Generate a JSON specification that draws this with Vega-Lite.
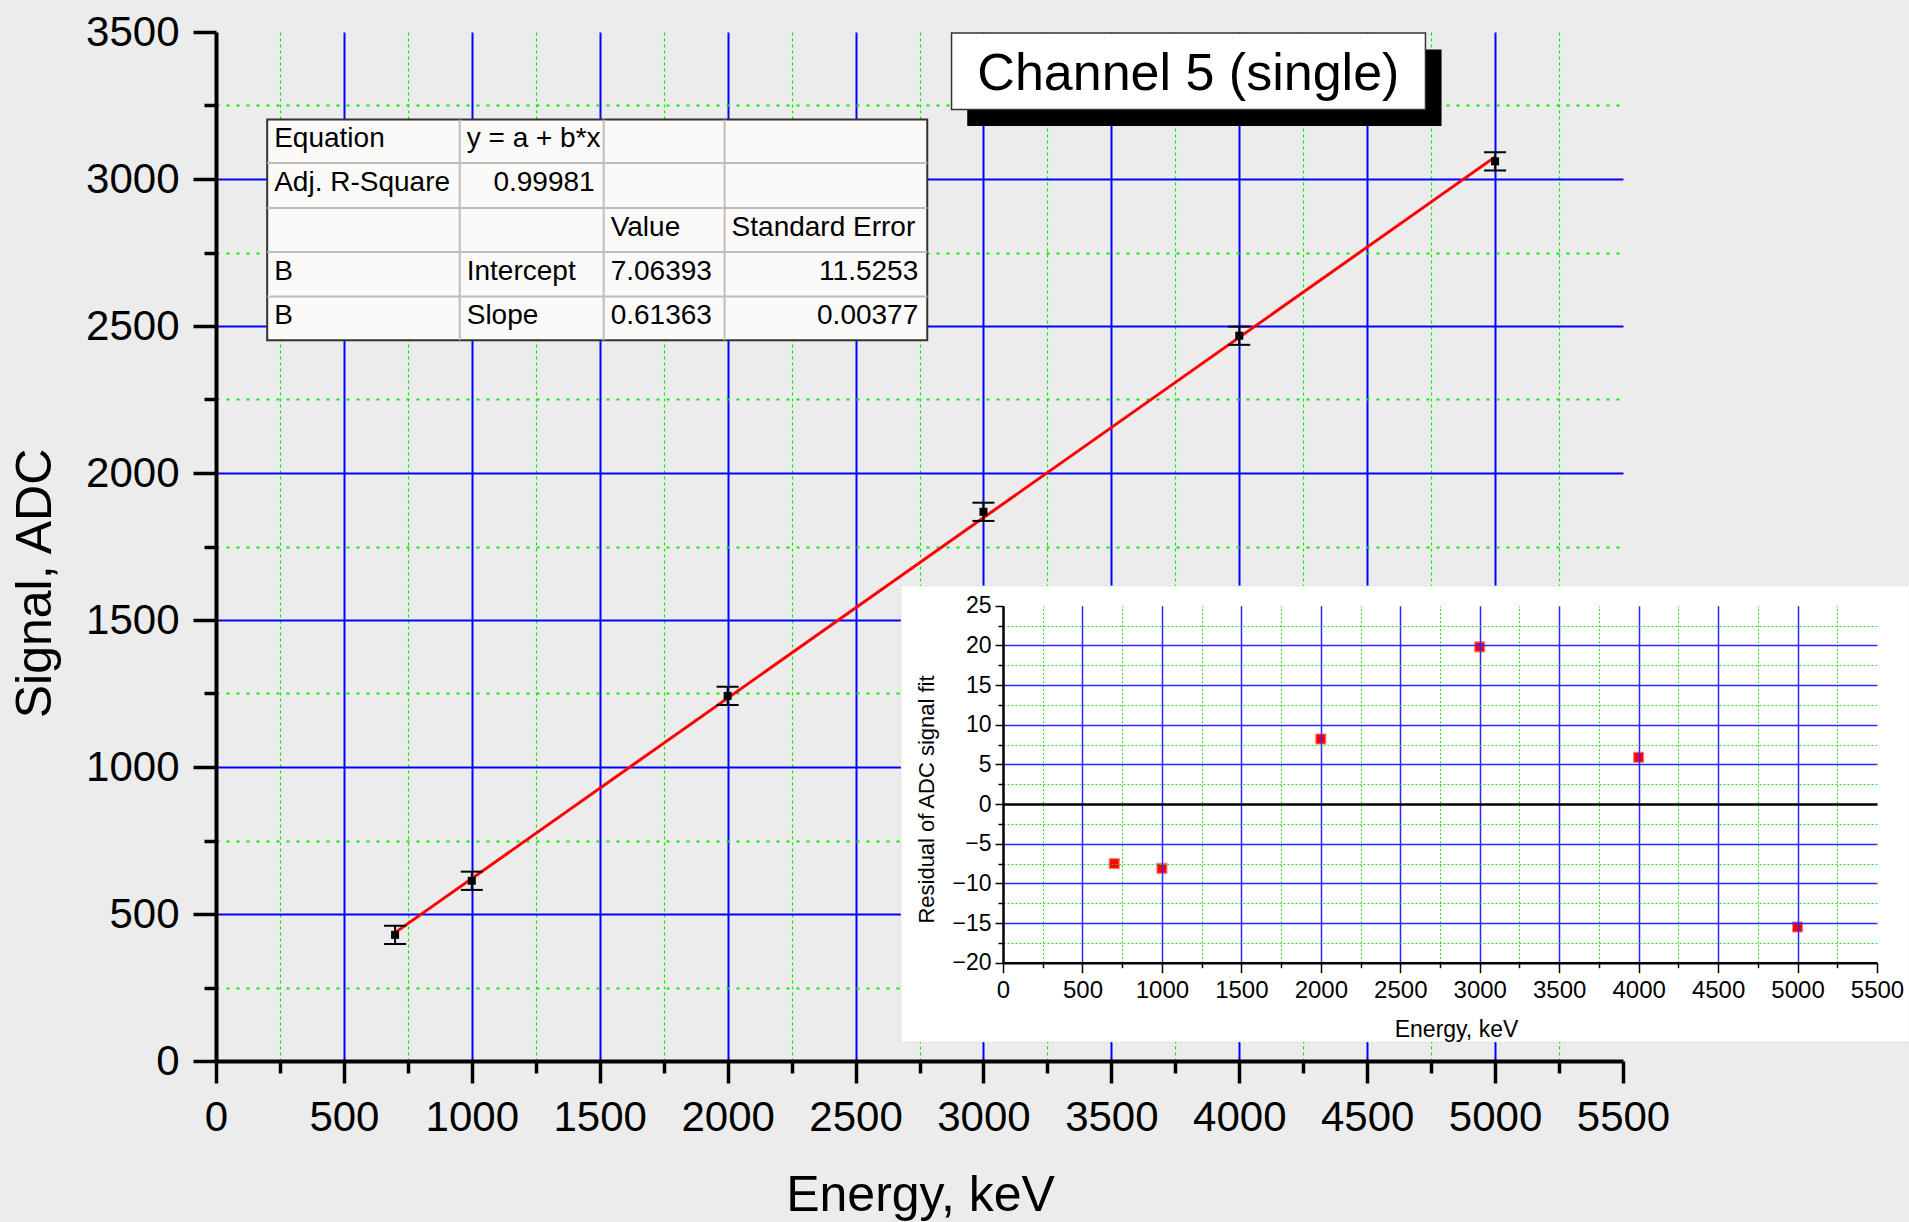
{
  "$schema": "https://vega.github.io/schema/vega-lite/v6.json",
  "width": 1407,
  "height": 1029,
  "autosize": "none",
  "padding": {"left": 216, "top": 32, "right": 286, "bottom": 161},
  "background": "#ececec",
  "config": {
    "view": {"stroke": null},
    "font": "Liberation Sans",
    "axis": {"labelFont": "Liberation Sans", "titleFont": "Liberation Sans", "labelColor": "#000000", "titleColor": "#000000", "tickColor": "#000000", "domainColor": "#000000", "titleFontWeight": "normal", "labelOverlap": false, "labelFlush": false, "format": "d"},
    "text": {"font": "Liberation Sans", "color": "#000000"}
  },
  "datasets": {
    "pts": [
      {"E": 700, "ADC": 429, "lo": 398, "hi": 460},
      {"E": 1000, "ADC": 613, "lo": 582, "hi": 644},
      {"E": 2000, "ADC": 1242, "lo": 1211, "hi": 1273},
      {"E": 3000, "ADC": 1868, "lo": 1837, "hi": 1899},
      {"E": 4000, "ADC": 2467, "lo": 2436, "hi": 2498},
      {"E": 5000, "ADC": 3060, "lo": 3029, "hi": 3091}
    ],
    "fit": [{"E": 700, "ADC": 436.6}, {"E": 5000, "ADC": 3075.2}],
    "res": [
      {"E": 700, "R": -7.5},
      {"E": 1000, "R": -8.1},
      {"E": 2000, "R": 8.2},
      {"E": 3000, "R": 19.8},
      {"E": 4000, "R": 5.9},
      {"E": 5000, "R": -15.5}
    ],
    "tablebox": [{"e0": 200.1, "e1": 2780.3, "a0": 2451.6, "a1": 3202.1}],
    "tablev": [
      {"e": 952.7, "a0": 2451.6, "a1": 3202.1},
      {"e": 1515.4, "a0": 2451.6, "a1": 3202.1},
      {"e": 1988.2, "a0": 2451.6, "a1": 3202.1}
    ],
    "tableh": [
      {"a": 3054.5, "e0": 200.1, "e1": 2780.3},
      {"a": 2901.4, "e0": 200.1, "e1": 2780.3},
      {"a": 2751.8, "e0": 200.1, "e1": 2780.3},
      {"a": 2600.2, "e0": 200.1, "e1": 2780.3}
    ],
    "tabL": [
      {"t": "Equation", "e": 200.1, "a": 3128.3},
      {"t": "y = a + b*x", "e": 952.7, "a": 3128.3},
      {"t": "Adj. R-Square", "e": 200.1, "a": 2978},
      {"t": "Value", "e": 1515.4, "a": 2826.6},
      {"t": "Standard Error", "e": 1988.2, "a": 2826.6},
      {"t": "B", "e": 200.1, "a": 2676},
      {"t": "Intercept", "e": 952.7, "a": 2676},
      {"t": "7.06393", "e": 1515.4, "a": 2676},
      {"t": "B", "e": 200.1, "a": 2525.9},
      {"t": "Slope", "e": 952.7, "a": 2525.9},
      {"t": "0.61363", "e": 1515.4, "a": 2525.9}
    ],
    "tabR": [
      {"t": "0.99981", "e": 1515.4, "a": 2978},
      {"t": "11.5253", "e": 2780.3, "a": 2676},
      {"t": "0.00377", "e": 2780.3, "a": 2525.9}
    ],
    "titlebox": [{"e0": 2875.3, "e1": 4727.8, "a0": 3236.1, "a1": 3496.6}],
    "titleshadow": [{"e0": 2936.6, "e1": 4790.7, "a0": 3180.3, "a1": 3440.2}],
    "titletext": [{"t": "Channel 5 (single)", "e": 3801, "a": 3357}],
    "insetbg": [{"e0": -642, "e1": 5703, "r0": -30, "r1": 27.5}]
  },
  "layer": [
    {
      "resolve": {"axis": {"x": "independent", "y": "independent"}},
      "layer": [
        {
          "data": {"name": "titleshadow"},
          "mark": {"type": "rect", "color": "#000000"},
          "encoding": {
            "x": {"field": "e0", "type": "quantitative", "scale": {"domain": [0, 5500], "nice": false}, "axis": null},
            "x2": {"field": "e1"},
            "y": {"field": "a0", "type": "quantitative", "scale": {"domain": [0, 3500], "nice": false}, "axis": null},
            "y2": {"field": "a1"}
          }
        },
        {
          "data": {"name": "titlebox"},
          "mark": {"type": "rect", "fill": "#ffffff", "stroke": "#333333", "strokeWidth": 1.5},
          "encoding": {
            "x": {"field": "e0", "type": "quantitative", "scale": {"domain": [0, 5500], "nice": false}, "axis": null},
            "x2": {"field": "e1"},
            "y": {"field": "a0", "type": "quantitative", "scale": {"domain": [0, 3500], "nice": false}, "axis": null},
            "y2": {"field": "a1"}
          }
        },
        {
          "data": {"name": "titletext"},
          "mark": {"type": "text", "fontSize": 52, "align": "center", "baseline": "middle"},
          "encoding": {
            "x": {"field": "e", "type": "quantitative", "scale": {"domain": [0, 5500], "nice": false}, "axis": null},
            "y": {"field": "a", "type": "quantitative", "scale": {"domain": [0, 3500], "nice": false}, "axis": null},
            "text": {"field": "t"}
          }
        },
        {
          "data": {"name": "tablebox"},
          "mark": {"type": "rect", "fill": "#fbfaf8", "stroke": "#333333", "strokeWidth": 2},
          "encoding": {
            "x": {"field": "e0", "type": "quantitative", "scale": {"domain": [0, 5500], "nice": false}, "axis": null},
            "x2": {"field": "e1"},
            "y": {"field": "a0", "type": "quantitative", "scale": {"domain": [0, 3500], "nice": false}, "axis": null},
            "y2": {"field": "a1"}
          }
        },
        {
          "data": {"name": "tablev"},
          "mark": {"type": "rule", "color": "#bdbdbd", "strokeWidth": 2},
          "encoding": {
            "x": {"field": "e", "type": "quantitative", "scale": {"domain": [0, 5500], "nice": false}, "axis": null},
            "y": {"field": "a0", "type": "quantitative", "scale": {"domain": [0, 3500], "nice": false}, "axis": null},
            "y2": {"field": "a1"}
          }
        },
        {
          "data": {"name": "tableh"},
          "mark": {"type": "rule", "color": "#bdbdbd", "strokeWidth": 2},
          "encoding": {
            "x": {"field": "e0", "type": "quantitative", "scale": {"domain": [0, 5500], "nice": false}, "axis": null},
            "x2": {"field": "e1"},
            "y": {"field": "a", "type": "quantitative", "scale": {"domain": [0, 3500], "nice": false}, "axis": null}
          }
        },
        {
          "data": {"name": "tabL"},
          "mark": {"type": "text", "fontSize": 28, "align": "left", "baseline": "middle", "dx": 7, "dy": -2},
          "encoding": {
            "x": {"field": "e", "type": "quantitative", "scale": {"domain": [0, 5500], "nice": false}, "axis": null},
            "y": {"field": "a", "type": "quantitative", "scale": {"domain": [0, 3500], "nice": false}, "axis": null},
            "text": {"field": "t"}
          }
        },
        {
          "data": {"name": "tabR"},
          "mark": {"type": "text", "fontSize": 28, "align": "right", "baseline": "middle", "dx": -9, "dy": -2},
          "encoding": {
            "x": {"field": "e", "type": "quantitative", "scale": {"domain": [0, 5500], "nice": false}, "axis": null},
            "y": {"field": "a", "type": "quantitative", "scale": {"domain": [0, 3500], "nice": false}, "axis": null},
            "text": {"field": "t"}
          }
        },
        {
          "data": {"name": "fit"},
          "mark": {"type": "line", "color": "#ff0000", "strokeWidth": 3},
          "encoding": {
            "x": {"field": "E", "type": "quantitative", "scale": {"domain": [0, 5500], "nice": false},
              "axis": {"orient": "bottom", "values": [250, 750, 1250, 1750, 2250, 2750, 3250, 3750, 4250, 4750, 5250], "tickSize": 12, "tickWidth": 3.5, "labels": false, "domain": false, "grid": true, "gridColor": "#00ee00", "gridWidth": 1.2, "gridDash": [3, 3], "title": null}},
            "y": {"field": "ADC", "type": "quantitative", "scale": {"domain": [0, 3500], "nice": false},
              "axis": {"orient": "left", "values": [250, 750, 1250, 1750, 2250, 2750, 3250], "tickSize": 12, "tickWidth": 3.5, "labels": false, "domain": false, "grid": true, "gridColor": "#00ee00", "gridWidth": 2, "gridDash": [3, 7], "title": null}}
          }
        },
        {
          "data": {"name": "pts"},
          "mark": {"type": "rule", "color": "#000000", "strokeWidth": 2},
          "encoding": {
            "x": {"field": "E", "type": "quantitative", "scale": {"domain": [0, 5500], "nice": false}, "axis": null},
            "y": {"field": "lo", "type": "quantitative", "scale": {"domain": [0, 3500], "nice": false}, "axis": null},
            "y2": {"field": "hi"}
          }
        },
        {
          "data": {"name": "pts"},
          "mark": {"type": "tick", "orient": "horizontal", "size": 22, "thickness": 2, "color": "#000000", "opacity": 1},
          "encoding": {
            "x": {"field": "E", "type": "quantitative", "scale": {"domain": [0, 5500], "nice": false}, "axis": null},
            "y": {"field": "lo", "type": "quantitative", "scale": {"domain": [0, 3500], "nice": false}, "axis": null}
          }
        },
        {
          "data": {"name": "pts"},
          "mark": {"type": "tick", "orient": "horizontal", "size": 22, "thickness": 2, "color": "#000000", "opacity": 1},
          "encoding": {
            "x": {"field": "E", "type": "quantitative", "scale": {"domain": [0, 5500], "nice": false}, "axis": null},
            "y": {"field": "hi", "type": "quantitative", "scale": {"domain": [0, 3500], "nice": false}, "axis": null}
          }
        },
        {
          "data": {"name": "pts"},
          "mark": {"type": "square", "size": 64, "color": "#000000", "opacity": 1, "filled": true},
          "encoding": {
            "x": {"field": "E", "type": "quantitative", "scale": {"domain": [0, 5500], "nice": false},
              "axis": {"orient": "bottom", "values": [0, 500, 1000, 1500, 2000, 2500, 3000, 3500, 4000, 4500, 5000, 5500], "tickSize": 22, "tickWidth": 3.5, "domainWidth": 4, "labelFontSize": 42, "labelPadding": 14, "grid": true, "gridColor": "#0000ff", "gridWidth": 2, "gridOpacity": {"condition": {"test": "datum.value === 0 || datum.value === 5500", "value": 0}, "value": 1}, "title": "Energy, keV", "titleFontSize": 50, "titleBaseline": "alphabetic", "titleX": 704, "titleY": 149}},
            "y": {"field": "ADC", "type": "quantitative", "scale": {"domain": [0, 3500], "nice": false},
              "axis": {"orient": "left", "values": [0, 500, 1000, 1500, 2000, 2500, 3000, 3500], "tickSize": 23, "tickWidth": 3.5, "domainWidth": 4, "labelFontSize": 42, "labelPadding": 14, "grid": true, "gridColor": "#0000ff", "gridWidth": 2, "gridOpacity": {"condition": {"test": "datum.value === 0 || datum.value === 3500", "value": 0}, "value": 1}, "title": "Signal, ADC", "titleFontSize": 50, "titleBaseline": "alphabetic", "titleX": -166, "titleY": 551}}
          }
        }
      ]
    },
    {
      "resolve": {"axis": {"x": "independent", "y": "independent"}},
      "layer": [
        {
          "data": {"name": "insetbg"},
          "mark": {"type": "rect", "fill": "#ffffff", "stroke": "#d4d4d4", "strokeWidth": 1, "strokeDash": [2, 2]},
          "encoding": {
            "x": {"field": "e0", "type": "quantitative", "scale": {"domain": [0, 5500], "nice": false, "range": [787, 1661]},
              "axis": {"orient": "top", "offset": -930.7, "zindex": 1, "values": [250, 750, 1250, 1750, 2250, 2750, 3250, 3750, 4250, 4750, 5250], "tickSize": -5, "tickWidth": 1.5, "labels": false, "domain": false, "grid": true, "gridColor": "#22dd22", "gridWidth": 1, "gridDash": [2, 2], "title": null}},
            "x2": {"field": "e1"},
            "y": {"field": "r0", "type": "quantitative", "scale": {"domain": [-20, 25], "nice": false, "zero": false, "range": [930.7, 573.7]},
              "axis": {"orient": "left", "offset": -787, "zindex": 1, "values": [-17.5, -12.5, -7.5, -2.5, 2.5, 7.5, 12.5, 17.5, 22.5], "tickSize": 5, "tickWidth": 1.5, "labels": false, "domain": false, "grid": true, "gridColor": "#22dd22", "gridWidth": 1, "gridDash": [2, 2], "title": null}},
            "y2": {"field": "r1"}
          }
        },
        {
          "data": {"name": "res"},
          "mark": {"type": "square", "size": 100, "color": "#ff0000", "opacity": 1, "filled": true, "zindex": 3},
          "encoding": {
            "x": {"field": "E", "type": "quantitative", "scale": {"domain": [0, 5500], "nice": false, "range": [787, 1661]},
              "axis": {"orient": "top", "offset": -930.7, "zindex": 1, "values": [0, 500, 1000, 1500, 2000, 2500, 3000, 3500, 4000, 4500, 5000, 5500], "ticks": false, "labels": false, "domain": false, "grid": true, "gridColor": "#2a2aff", "gridWidth": 1.5, "gridOpacity": {"condition": {"test": "datum.value === 0 || datum.value === 5500", "value": 0}, "value": 1}, "title": null}},
            "y": {"field": "R", "type": "quantitative", "scale": {"domain": [-20, 25], "nice": false, "zero": false, "range": [930.7, 573.7]},
              "axis": {"orient": "left", "offset": -787, "zindex": 1, "values": [-20, -15, -10, -5, 0, 5, 10, 15, 20, 25], "tickSize": 8, "tickWidth": 1.5, "domainWidth": 2.5, "labelFontSize": 23, "labelPadding": 4, "grid": true, "gridColor": {"condition": {"test": "datum.value === 0", "value": "#000000"}, "value": "#2a2aff"}, "gridWidth": {"condition": {"test": "datum.value === 0", "value": 2.5}, "value": 1.5}, "gridOpacity": {"condition": {"test": "datum.value === -20 || datum.value === 25", "value": 0}, "value": 1}, "title": "Residual of ADC signal fit", "titleFontSize": 22, "titleBaseline": "middle", "titleX": -77, "titleY": 767}}
          }
        },
        {
          "data": {"name": "res"},
          "mark": {"type": "square", "size": 100, "filled": false, "stroke": "#ff8080", "strokeWidth": 1.2, "opacity": 1, "zindex": 3},
          "encoding": {
            "x": {"field": "E", "type": "quantitative", "scale": {"domain": [0, 5500], "nice": false, "range": [787, 1661]},
              "axis": {"orient": "bottom", "offset": -98.3, "zindex": 1, "values": [0, 500, 1000, 1500, 2000, 2500, 3000, 3500, 4000, 4500, 5000, 5500], "tickSize": 10, "tickWidth": 1.5, "domainWidth": 2.5, "labelFontSize": 24, "labelPadding": 6, "grid": false, "title": "Energy, keV", "titleFontSize": 23, "titleBaseline": "alphabetic", "titleX": 1240, "titleY": 74}},
            "y": {"field": "R", "type": "quantitative", "scale": {"domain": [-20, 25], "nice": false, "zero": false, "range": [930.7, 573.7]}, "axis": null}
          }
        }
      ]
    }
  ],
  "resolve": {"scale": {"x": "independent", "y": "independent"}, "axis": {"x": "independent", "y": "independent"}}
}
